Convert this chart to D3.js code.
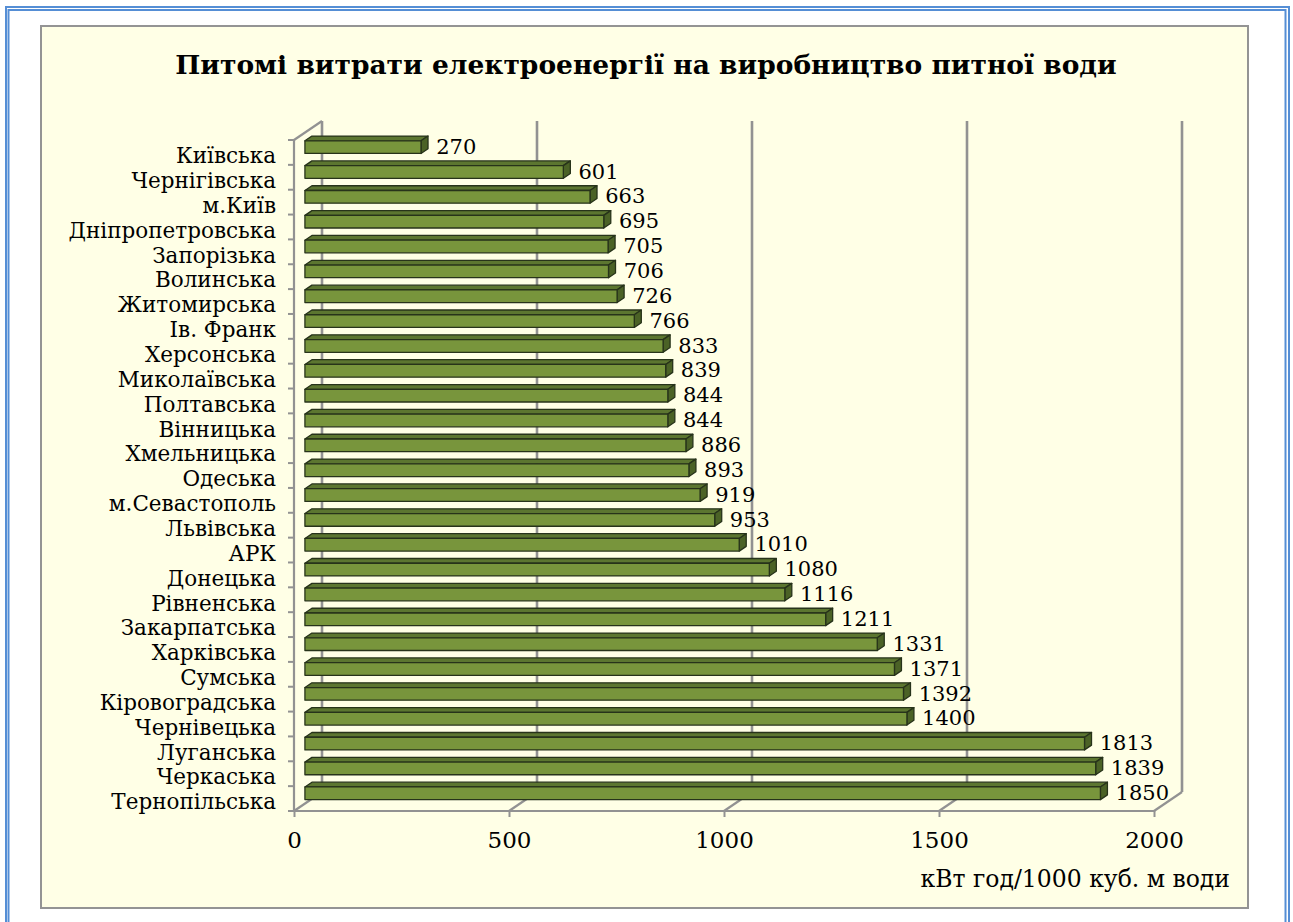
<!DOCTYPE html>
<html>
<head>
<meta charset="utf-8">
<script src="https://cdn.jsdelivr.net/npm/d3@7"></script>
<style>
  html, body { margin: 0; padding: 0; background: #ffffff; }
  svg { display: block; }
</style>
</head>
<body>
<svg id="chart" width="1293" height="922"></svg>
<script>
const categories = ["Київська","Чернігівська","м.Київ","Дніпропетровська","Запорізька","Волинська","Житомирська","Ів. Франк","Херсонська","Миколаївська","Полтавська","Вінницька","Хмельницька","Одеська","м.Севастополь","Львівська","АРК","Донецька","Рівненська","Закарпатська","Харківська","Сумська","Кіровоградська","Чернівецька","Луганська","Черкаська","Тернопільська"];
const values = [270,601,663,695,705,706,726,766,833,839,844,844,886,893,919,953,1010,1080,1116,1211,1331,1371,1392,1400,1813,1839,1850];
const xTicks = [0,500,1000,1500,2000];
const titleText = "Питомі витрати електроенергії на виробництво питної води";
const axisTitle = "кВт год/1000 куб. м води";

const svg = d3.select("#chart");
const FONT = "'DejaVu Serif', serif";

// outer blue frame
svg.append("rect").attr("x",6).attr("y",7).attr("width",1283).attr("height",940)
  .attr("fill","none").attr("stroke","#558ED5").attr("stroke-width",2);
svg.append("rect").attr("x",8.5).attr("y",10).attr("width",1277).attr("height",940)
  .attr("fill","none").attr("stroke","#558ED5").attr("stroke-width",2);

// chart area
svg.append("rect").attr("x",41).attr("y",26).attr("width",1207).attr("height",882)
  .attr("fill","#FFFFE6").attr("stroke","#949494").attr("stroke-width",2);

// title
svg.append("text").attr("x",646).attr("y",74).attr("text-anchor","middle")
  .attr("font-family",FONT).attr("font-weight","bold").attr("font-size",26.5)
  .attr("fill","#000").text(titleText);

// scales
const x = d3.scaleLinear().domain([0,2000]).range([294,1154]);
const y = d3.scaleBand().domain(categories).range([140,811]).padding(0);
const DX = 28, DY = -19;
const bw = y.bandwidth();
const yTop = 140, yBot = 811;

const grid = svg.append("g").attr("stroke","#929292").attr("fill","none");
xTicks.forEach(v => {
  grid.append("line").attr("x1",x(v)+DX).attr("x2",x(v)+DX)
    .attr("y1",yTop+DY).attr("y2",yBot+DY).attr("stroke-width",2.6);
  grid.append("line").attr("x1",x(v)).attr("y1",yBot)
    .attr("x2",x(v)+DX).attr("y2",yBot+DY).attr("stroke-width",2.2);
});
grid.append("line").attr("x1",x(0)).attr("y1",yTop).attr("x2",x(0)+DX).attr("y2",yTop+DY).attr("stroke-width",2.2);
grid.append("line").attr("x1",x(0)).attr("y1",yTop).attr("x2",x(0)).attr("y2",yBot).attr("stroke-width",2.2);
const bounds = categories.map(c => y(c)).concat([yBot]);
bounds.forEach(b => {
  grid.append("line").attr("x1",x(0)-6).attr("x2",x(0)).attr("y1",b).attr("y2",b).attr("stroke-width",2);
});

// bottom axis
const xAxis = d3.axisBottom(x).tickValues(xTicks).tickSize(6).tickPadding(15).tickFormat(d3.format("d"));
const gx = svg.append("g").attr("transform",`translate(0,${yBot})`).call(xAxis);
gx.select(".domain").attr("stroke","#929292").attr("stroke-width",2.2).attr("d",`M${x(0)},0H${x(2000)}`);
gx.selectAll(".tick line").attr("stroke","#929292").attr("stroke-width",2);
gx.selectAll(".tick text").attr("font-family",FONT).attr("font-size",23).attr("fill","#000");

// left axis labels
const yAxis = d3.axisLeft(y).tickSize(0).tickPadding(18);
const gy = svg.append("g").attr("transform",`translate(${x(0)},0)`).call(yAxis);
gy.select(".domain").remove();
gy.selectAll(".tick text").attr("font-family",FONT).attr("font-size",21.5).attr("fill","#000").attr("dy","0.5em");

// 3D bars
const d1 = 0.39, d2 = 0.64, f1 = 0.33, f2 = 0.84;
function P(v, cat, f, d) {
  return [x(v) + DX*d, y(cat) + f*bw + DY*d];
}
const bars = svg.append("g");
categories.forEach((c, i) => {
  const v = values[i];
  const g = bars.append("g").attr("stroke","#27331A").attr("stroke-width",1.3).attr("stroke-linejoin","round");
  const poly = pts => pts.map(p => p.join(",")).join(" ");
  g.append("polygon").attr("fill","#5C7630")
    .attr("points", poly([P(0,c,f1,d1),P(v,c,f1,d1),P(v,c,f1,d2),P(0,c,f1,d2)]));
  g.append("polygon").attr("fill","#4B6226")
    .attr("points", poly([P(v,c,f1,d1),P(v,c,f1,d2),P(v,c,f2,d2),P(v,c,f2,d1)]));
  g.append("polygon").attr("fill","#78953C")
    .attr("points", poly([P(0,c,f1,d1),P(v,c,f1,d1),P(v,c,f2,d1),P(0,c,f2,d1)]));
});

// value labels
svg.append("g").selectAll("text").data(categories).join("text")
  .attr("x", (c,i) => x(values[i]) + DX*0.61 + 9)
  .attr("y", c => y(c) + bw/2 - 6)
  .attr("dy","0.35em")
  .attr("font-family",FONT).attr("font-size",21).attr("fill","#000")
  .text((c,i) => values[i]);

// axis title
svg.append("text").attr("x",1230).attr("y",887).attr("text-anchor","end")
  .attr("font-family",FONT).attr("font-size",23.5).attr("fill","#000").text(axisTitle);
</script>
</body>
</html>
